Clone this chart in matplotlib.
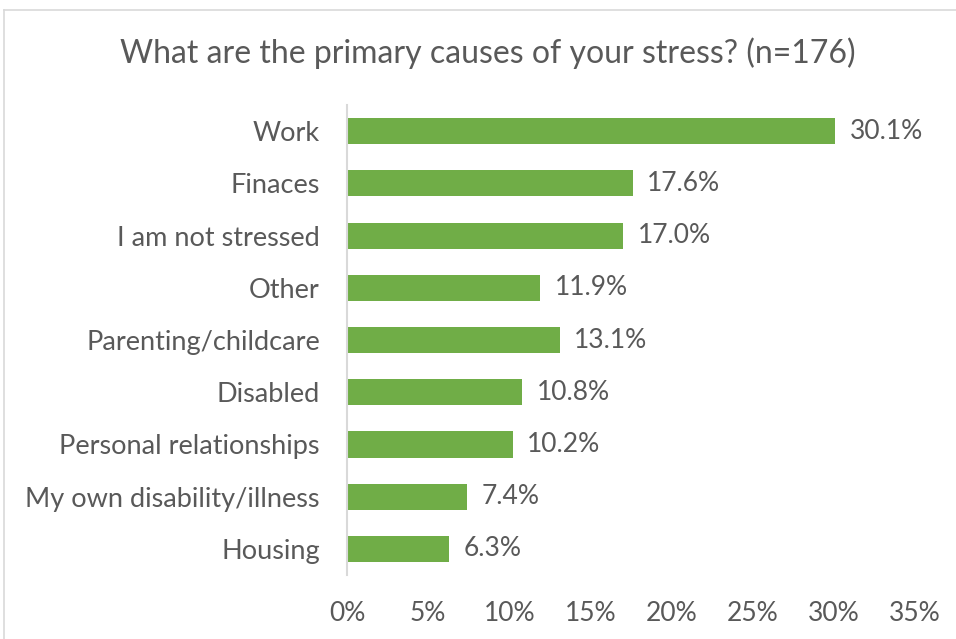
import matplotlib
matplotlib.use("Agg")
import matplotlib.pyplot as plt
from matplotlib.lines import Line2D

categories = ["Work", "Finaces", "I am not stressed", "Other", "Parenting/childcare",
              "Disabled", "Personal relationships", "My own disability/illness", "Housing"]
values = [30.1, 17.6, 17.0, 11.9, 13.1, 10.8, 10.2, 7.4, 6.3]
xticks = [0, 5, 10, 15, 20, 25, 30, 35]
title = "What are the primary causes of your stress? (n=176)"

plt.rcParams['font.family'] = ['Lato', 'DejaVu Sans']
txt = "#595959"

fig = plt.figure(figsize=(9.56, 6.39), dpi=100)
W, H = 956, 639
ax = fig.add_axes([347 / W, 1 - 575 / H, (915 - 347) / W, (575 - 105) / H])

ypos = list(range(len(categories)))
ax.barh(ypos, values, height=0.5, color="#70AD47")
ax.set_ylim(len(categories) - 0.5, -0.5)
ax.set_xlim(0, 35)
ax.set_yticks(ypos)
ax.set_yticklabels(categories, fontsize=19.5, color=txt)
ax.set_xticks(xticks)
ax.set_xticklabels([f"{t}%" for t in xticks], fontsize=19, color=txt)
ax.tick_params(axis='both', length=0)
ax.tick_params(axis='y', pad=19.5)
ax.tick_params(axis='x', pad=19)
for s in ["top", "right", "bottom"]:
    ax.spines[s].set_visible(False)
ax.spines["left"].set_color("#D9D9D9")
ax.spines["left"].set_linewidth(1.5)

for y, v in zip(ypos, values):
    ax.text(v + 0.9, y, f"{v:.1f}%", va="center", ha="left", fontsize=19, color=txt)

fig.text(488 / W, 1 - 53 / H, title, ha="center", va="center", fontsize=23, color=txt)

# chart border (top and left visible)
fig.add_artist(Line2D([4 / W, 4 / W], [0, 1 - 10 / H], transform=fig.transFigure, color="#D9D9D9", lw=1.2))
fig.add_artist(Line2D([4 / W, 1], [1 - 10 / H, 1 - 10 / H], transform=fig.transFigure, color="#D9D9D9", lw=1.2))

fig.savefig("out.png", dpi=100)
